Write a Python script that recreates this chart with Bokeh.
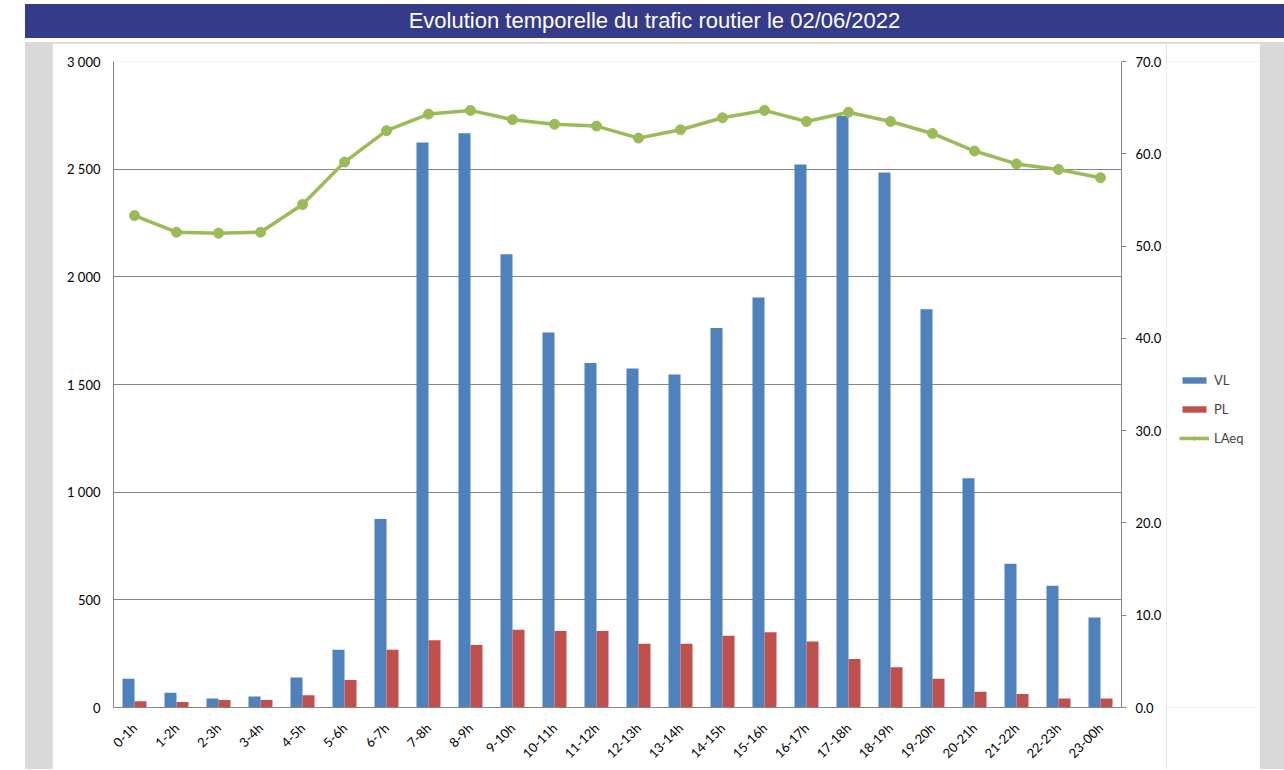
from bokeh.plotting import figure
from bokeh.models import (Range1d, LinearAxis, FixedTicker, NumeralTickFormatter,
                          Legend, LegendItem, Div, ColumnDataSource)
from bokeh.layouts import column, row
from bokeh.transform import dodge
from bokeh.embed import file_html
from bokeh.resources import INLINE
import math

hours = ["0-1h", "1-2h", "2-3h", "3-4h", "4-5h", "5-6h", "6-7h", "7-8h", "8-9h",
         "9-10h", "10-11h", "11-12h", "12-13h", "13-14h", "14-15h", "15-16h",
         "16-17h", "17-18h", "18-19h", "19-20h", "20-21h", "21-22h", "22-23h", "23-00h"]
vl = [133, 68, 42, 51, 139, 268, 875, 2624, 2667, 2105, 1741, 1600, 1574, 1546,
      1762, 1904, 2522, 2747, 2485, 1850, 1065, 667, 565, 418]
pl = [29, 25, 35, 35, 57, 128, 268, 312, 290, 361, 355, 355, 296, 296,
      333, 350, 306, 225, 187, 133, 73, 63, 42, 42]
laeq = [53.3, 51.5, 51.4, 51.5, 54.5, 59.1, 62.5, 64.3, 64.7, 63.7, 63.2, 63.0,
        61.7, 62.6, 63.9, 64.7, 63.5, 64.5, 63.5, 62.2, 60.3, 58.9, 58.3, 57.4]
left_ticks = [0, 500, 1000, 1500, 2000, 2500, 3000]
left_labels = ["0", "500", "1 000", "1 500", "2 000", "2 500", "3 000"]
right_ticks = [0, 10, 20, 30, 40, 50, 60, 70]

FONT = "Lato"
GRAY = "#868686"
C_VL, C_PL, C_LA = "#4f81bd", "#c0504d", "#9bbb59"
idx = list(range(len(hours)))
src = ColumnDataSource(dict(x=idx, vl=vl, pl=pl, laeq=laeq))

p = figure(width=1114, height=726, x_range=Range1d(-0.5, len(hours) - 0.5),
           y_range=Range1d(0, 3000), output_backend="svg", toolbar_location=None,
           min_border_left=61, min_border_right=45, min_border_top=18, min_border_bottom=60)
p.extra_y_ranges = {"laeq": Range1d(0, 70)}
p.outline_line_color = None
p.background_fill_color = "white"
p.border_fill_color = "white"

bw = 0.286
p.vbar(x=dodge("x", -bw / 2), top="vl", width=bw, source=src,
       fill_color=C_VL, line_color=None)
p.vbar(x=dodge("x", bw / 2), top="pl", width=bw, source=src,
       fill_color=C_PL, line_color=None)
p.line(x="x", y="laeq", source=src, y_range_name="laeq",
       line_color=C_LA, line_width=3.5)
p.scatter(x="x", y="laeq", source=src, y_range_name="laeq", size=10,
          fill_color=C_LA, line_color=C_LA)

xa = p.xaxis[0]
xa.ticker = FixedTicker(ticks=idx)
xa.major_label_overrides = {i: h for i, h in enumerate(hours)}
xa.major_label_orientation = math.pi / 4
xa.major_tick_line_color = None
xa.minor_tick_line_color = None
xa.axis_line_color = GRAY
xa.major_label_text_font = FONT
xa.major_label_text_font_size = "13px"
xa.major_label_text_color = "#000000"
xa.major_label_standoff = 12

ya = p.yaxis[0]
ya.ticker = FixedTicker(ticks=left_ticks)
ya.major_label_overrides = {t: l for t, l in zip(left_ticks, left_labels)}
ya.major_tick_line_color = None
ya.minor_tick_line_color = None
ya.major_tick_out = 0
ya.major_label_standoff = 13
ya.axis_line_color = GRAY
ya.major_label_text_font = FONT
ya.major_label_text_font_size = "13px"
ya.major_label_text_color = "#000000"

ra = LinearAxis(y_range_name="laeq", ticker=FixedTicker(ticks=right_ticks),
                formatter=NumeralTickFormatter(format="0.0"))
ra.major_tick_in = 0
ra.major_tick_out = 5
ra.major_tick_line_color = GRAY
ra.minor_tick_line_color = None
ra.axis_line_color = GRAY
ra.major_label_standoff = 9
ra.major_label_text_font = FONT
ra.major_label_text_font_size = "13px"
ra.major_label_text_color = "#000000"
p.add_layout(ra, "right")

p.xgrid.grid_line_color = None
p.ygrid.grid_line_color = GRAY
p.ygrid.grid_line_width = 1

# legend panel: a small figure whose swatch renderers sit outside its visible range
lf = figure(width=94, height=726, x_range=Range1d(0, 1), y_range=Range1d(0, 1),
            output_backend="svg", toolbar_location=None, min_border=0,
            x_axis_type=None, y_axis_type=None)
lf.outline_line_color = None
lf.xgrid.visible = False
lf.ygrid.visible = False
lf.background_fill_color = "white"
lf.border_fill_color = "white"
off = ColumnDataSource(dict(x=[-10.0], y=[-10.0]))
s_vl = lf.vbar(x="x", top="y", width=0.1, source=off, fill_color=C_VL, line_color=None)
s_pl = lf.vbar(x="x", top="y", width=0.1, source=off, fill_color=C_PL, line_color=None)
s_ln = lf.line(x="x", y="y", source=off, line_color=C_LA, line_width=3.5)
s_pt = lf.scatter(x="x", y="y", source=off, size=10, fill_color=C_LA, line_color=C_LA)

legend = Legend(items=[LegendItem(label="VL", renderers=[s_vl]),
                       LegendItem(label="PL", renderers=[s_pl]),
                       LegendItem(label="LAeq", renderers=[s_ln, s_pt])],
                location=(13, 259), glyph_width=30, glyph_height=8, label_height=20,
                spacing=9, padding=10, margin=0, border_line_color=None,
                background_fill_alpha=0, label_text_font=FONT,
                label_text_font_size="13px", label_standoff=5)
lf.add_layout(legend)

title = Div(text="Evolution temporelle du trafic routier le 02/06/2022",
            width=1259, height=34, margin=(4, 0, 0, 25),
            styles={"background-color": "#353b88", "color": "white",
                    "font-family": "'Liberation Sans', Arial, sans-serif",
                    "font-size": "22px", "text-align": "center",
                    "line-height": "34px"})
p.margin = (1, 0, 0, 27)
lf.margin = (1, 24, 0, 0)
gray = column(row(p, lf), margin=(4, 0, 0, 25), styles={"background-color": "#d9d9d9"})
layout = column(title, gray)

open("out.html", "w").write(file_html(layout, INLINE))
